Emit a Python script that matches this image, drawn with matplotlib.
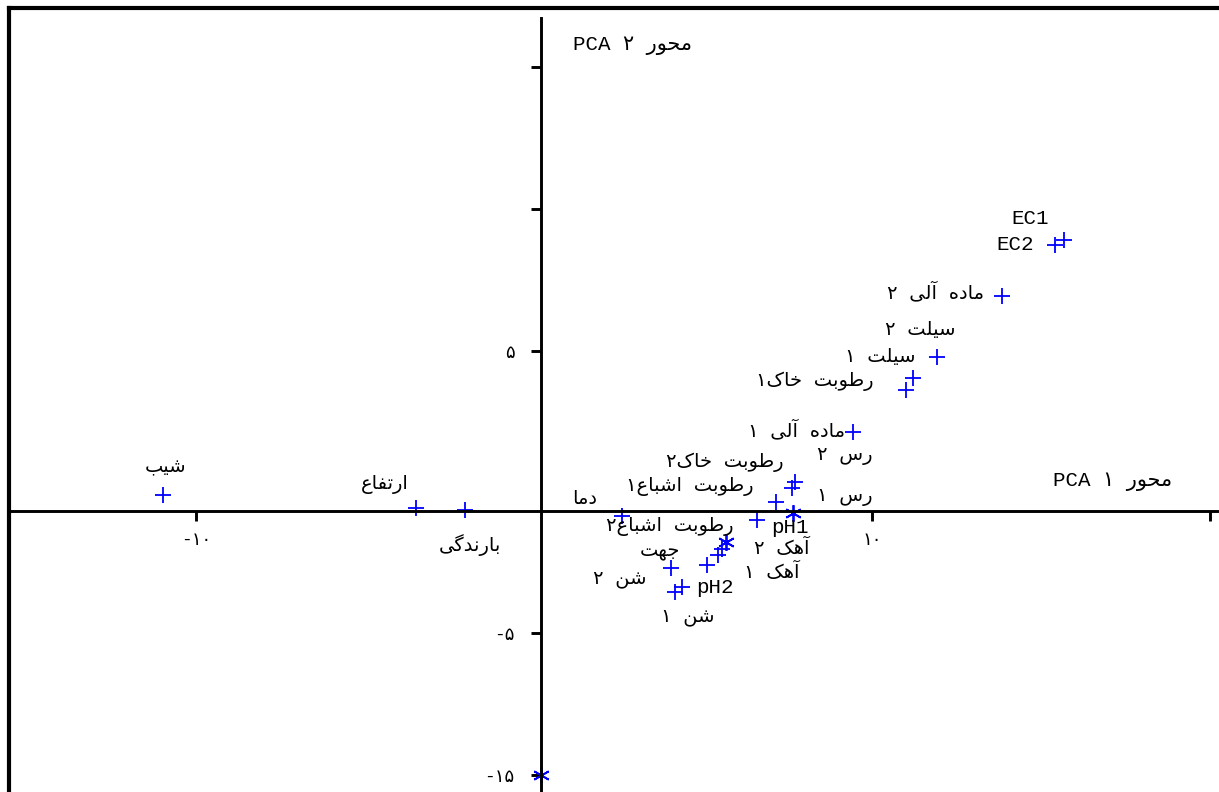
import matplotlib
matplotlib.use("Agg")
import matplotlib.pyplot as plt
from matplotlib.lines import Line2D

# PCA loadings (axis 1, axis 2)
names = ["EC1", "EC2", "ماده آلی ۲", "سیلت ۲", "سیلت ۱", "رطوبت خاک۱",
         "ماده آلی ۱", "رس ۲", "رطوبت خاک۲", "رطوبت اشباع۱", "رس ۱", "pH1",
         "دما", "رطوبت اشباع۲", "آهک ۲", "آهک ۱", "pH2", "جهت", "شن ۱", "شن ۲",
         "شیب", "ارتفاع", "بارندگی", ""]
pc1 = [15.47, 15.21, 13.64, 11.72, 11.01, 10.80, 9.23, 7.51, 7.43, 6.95, 7.46, 6.39,
       2.40, 5.47, 5.36, 5.24, 4.91, 3.85, 4.17, 3.96, -11.18, -3.70, -2.25, 0.0]
pc2 = [9.54, 9.37, 7.57, 5.42, 4.68, 4.26, 2.78, 1.02, 0.81, 0.32, -0.07, -0.32,
       -0.18, -1.09, -1.34, -1.55, -1.90, -2.01, -2.68, -2.85, 0.56, 0.11, 0.04, -9.30]
kind = ["+"] * 10 + ["*"] + ["+"] * 2 + ["*"] + ["+"] * 9 + ["*"]

# label offsets in pixels from each point
lab_dx = [-34, -40, -67, -17, -33, -91, -56, 50, -67, -86, 52, 33,
          -37, -56, 60, 54, 8, -11, 6, -55, 2, -31, 5, 0]
lab_dy = [22, 0, 4, 27, 21, 9, 2, 26, 26, 15, 15, -7,
          17, 15, 1, -17, -23, 16, -30, 12, 27, 23, -35, 0]

xtick_pos = [-10.2, 9.8, 19.8]
xtick_lab = ["-۱۰", "۱۰", ""]
ytick_pos = [15.63, 10.63, 5.63, -4.30, -9.30]
ytick_lab = ["", "", "۵", "-۵", "-۱۵"]

# minimal arabic/persian shaping (matplotlib does no shaping / bidi)
FORMS = {
    "ا": ("\uFE8D", "\uFE8E", None, None),
    "آ": ("\uFE81", "\uFE82", None, None),
    "ب": ("\uFE8F", "\uFE90", "\uFE91", "\uFE92"),
    "ت": ("\uFE95", "\uFE96", "\uFE97", "\uFE98"),
    "ج": ("\uFE9D", "\uFE9E", "\uFE9F", "\uFEA0"),
    "ح": ("\uFEA1", "\uFEA2", "\uFEA3", "\uFEA4"),
    "خ": ("\uFEA5", "\uFEA6", "\uFEA7", "\uFEA8"),
    "د": ("\uFEA9", "\uFEAA", None, None),
    "ر": ("\uFEAD", "\uFEAE", None, None),
    "س": ("\uFEB1", "\uFEB2", "\uFEB3", "\uFEB4"),
    "ش": ("\uFEB5", "\uFEB6", "\uFEB7", "\uFEB8"),
    "ط": ("\uFEC1", "\uFEC2", "\uFEC3", "\uFEC4"),
    "ع": ("\uFEC9", "\uFECA", "\uFECB", "\uFECC"),
    "ف": ("\uFED1", "\uFED2", "\uFED3", "\uFED4"),
    "ل": ("\uFEDD", "\uFEDE", "\uFEDF", "\uFEE0"),
    "م": ("\uFEE1", "\uFEE2", "\uFEE3", "\uFEE4"),
    "ن": ("\uFEE5", "\uFEE6", "\uFEE7", "\uFEE8"),
    "ه": ("\uFEE9", "\uFEEA", "\uFEEB", "\uFEEC"),
    "و": ("\uFEED", "\uFEEE", None, None),
    "ی": ("\uFBFC", "\uFBFD", "\uFBFE", "\uFBFF"),
    "ک": ("\uFB8E", "\uFB8F", "\uFB90", "\uFB91"),
    "گ": ("\uFB92", "\uFB93", "\uFB94", "\uFB95"),
}


def shape(word):
    out = []
    for i, c in enumerate(word):
        if c not in FORMS:
            out.append(c)
            continue
        prev = word[i - 1] if i > 0 else None
        nxt = word[i + 1] if i + 1 < len(word) else None
        jp = prev in FORMS and FORMS[prev][2] is not None
        jn = nxt in FORMS and FORMS[c][2] is not None
        iso, fin, ini, med = FORMS[c]
        out.append(med if (jp and jn) else fin if jp else ini if jn else iso)
    return "".join(out)


def rtl(s):
    if any(ch in FORMS for ch in s):
        return shape(s)[::-1]
    return s


FAM = ["Liberation Mono", "DejaVu Sans"]

fig = plt.figure(figsize=(12.19, 7.92), dpi=100)
ax = fig.add_axes([0, 0, 1, 1])
ax.set_xlim(-16.006, 20.06)
ax.set_ylim(-9.894, 17.993)
ax.set_facecolor("white")

for s in ["top", "right"]:
    ax.spines[s].set_visible(False)
ax.spines["left"].set_position(("data", 0))
ax.spines["bottom"].set_position(("data", 0))
ax.spines["left"].set_linewidth(2.1)
ax.spines["bottom"].set_linewidth(2.1)
ax.spines["left"].set_bounds(-9.9, 17.36)
ax.spines["bottom"].set_bounds(-15.7, 20.0)

ax.set_xticks(xtick_pos)
ax.set_xticklabels(xtick_lab, family=FAM, fontsize=13)
ax.set_yticks(ytick_pos)
ax.set_yticklabels(ytick_lab, family=FAM, fontsize=13)
ax.tick_params(axis="x", direction="out", length=7, width=2.1, pad=8)
ax.tick_params(axis="y", direction="out", length=7, width=2.1, pad=12)

for x, y, k in zip(pc1, pc2, kind):
    if k == "+":
        ax.plot(x, y, marker="+", ms=12, mew=1.3, color="#0000ff", ls="none")
    else:
        ax.plot(x, y, marker=(6, 2, 0), ms=12, mew=1.3, color="#0000ff", ls="none")

for n, x, y, dx, dy in zip(names, pc1, pc2, lab_dx, lab_dy):
    if not n:
        continue
    is_fa = any(ch in FORMS for ch in n)
    ax.annotate(rtl(n), (x, y), xytext=(dx, dy), textcoords="offset pixels",
                ha="center", va="center", family=FAM,
                fontsize=14 if is_fa else 15, color="black")

ax.text(2.7, 16.4, "PCA ۲ " + rtl("محور"), family=FAM, fontsize=15,
        ha="center", va="center")
ax.text(16.9, 1.05, "PCA ۱ " + rtl("محور"), family=FAM, fontsize=15,
        ha="center", va="center")

# outer frame (left and top only)
fig.add_artist(Line2D([9 / 1219, 9 / 1219], [0, 1 - 8 / 792], color="black",
                      lw=3, transform=fig.transFigure))
fig.add_artist(Line2D([9 / 1219, 1], [1 - 8 / 792, 1 - 8 / 792], color="black",
                      lw=3, transform=fig.transFigure))

fig.savefig("out.png", dpi=100, facecolor="white")
